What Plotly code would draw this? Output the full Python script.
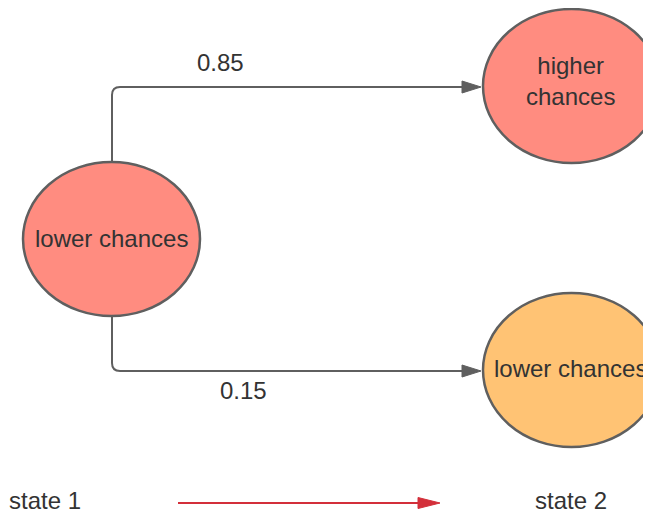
import plotly.graph_objects as go

# ---- data ----
node_labels = ["lower chances", "higher<br>chances", "lower chances"]
node_colors = ["#FF8C80", "#FF8C80", "#FFC374"]
transition_probs = ["0.85", "0.15"]
state_labels = ["state 1", "state 2"]

# ---- layout geometry (pixel space of the 651x513 window) ----
W, H = 651, 513
OFF = 8  # default page body margin
nodes = [  # x0, x1, y0, y1
    (23, 200, 162, 316),
    (483, 660, 9, 163),
    (483, 660, 293, 447),
]
text_pos = [(111, 238), (570, 81), (570, 368)]
prob_pos = [(220, 62), (243, 390)]
state_pos = [(45, 500), (571, 500)]

LINE = "#5F5F5F"
TXT = "#333333"
FONT = "Liberation Sans, Arial, sans-serif"
FS = 24

fig = go.Figure()
fig.add_trace(go.Scatter(x=[OFF, W], y=[OFF, H], mode="markers", marker=dict(opacity=0), hoverinfo="skip", showlegend=False))

shapes = []
# connectors
sx = 112
shapes.append(dict(type="path", path=f"M {sx} {nodes[0][2]} L {sx} 95 Q {sx} 87 120 87 L 466 87",
                   line=dict(color=LINE, width=2), layer="below"))
shapes.append(dict(type="path", path=f"M {sx} {nodes[0][3]} L {sx} 363 Q {sx} 371 120 371 L 466 371",
                   line=dict(color=LINE, width=2), layer="below"))
for yy in (87, 371):
    shapes.append(dict(type="path", path=f"M 462 {yy-6} L 481 {yy} L 462 {yy+6} Z",
                       fillcolor=LINE, line=dict(color=LINE, width=1)))
# nodes
for (x0, x1, y0, y1), c in zip(nodes, node_colors):
    shapes.append(dict(type="circle", x0=x0, x1=x1, y0=y0, y1=y1, fillcolor=c,
                       line=dict(color=LINE, width=2.5)))
# red state arrow
RED = "#D32F3A"
shapes.append(dict(type="line", x0=178, x1=425, y0=503, y1=503, line=dict(color=RED, width=2)))
shapes.append(dict(type="path", path="M 418 497.5 L 440 503 L 418 508.5 Z", fillcolor=RED, line=dict(color=RED, width=1)))

annotations = []
for lab, (x, y) in zip(node_labels, text_pos):
    annotations.append(dict(x=x, y=y, text=lab, showarrow=False, font=dict(size=FS, color=TXT, family=FONT)))
for lab, (x, y) in zip(transition_probs, prob_pos):
    annotations.append(dict(x=x, y=y, text=lab, showarrow=False, font=dict(size=FS, color=TXT, family=FONT)))
for lab, (x, y) in zip(state_labels, state_pos):
    annotations.append(dict(x=x, y=y, text=lab, showarrow=False, font=dict(size=FS, color=TXT, family=FONT)))

fig.update_layout(
    width=W - OFF, height=H - OFF, margin=dict(l=0, r=0, t=0, b=0, pad=0),
    paper_bgcolor="white", plot_bgcolor="white",
    xaxis=dict(range=[OFF, W], visible=False, fixedrange=True),
    yaxis=dict(range=[H, OFF], visible=False, fixedrange=True),
    shapes=shapes, annotations=annotations, showlegend=False,
)
fig.write_html("out.html")
